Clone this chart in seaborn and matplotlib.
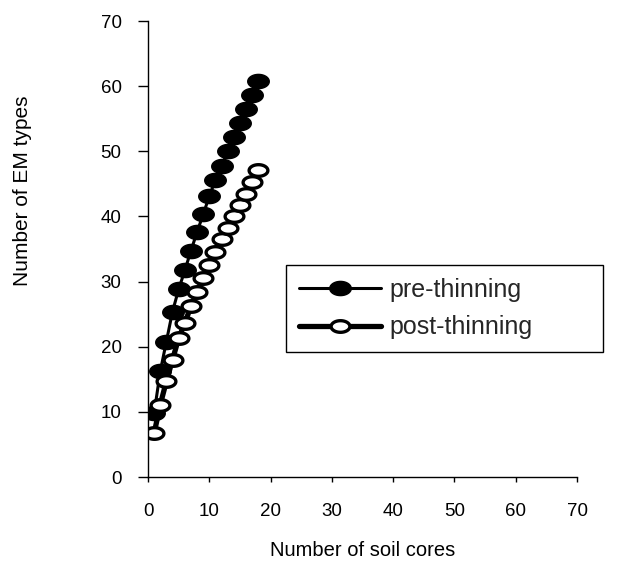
import numpy as np
import pandas as pd
import matplotlib
matplotlib.use("Agg")
import matplotlib.pyplot as plt
from matplotlib.path import Path
import seaborn as sns

# ---- data ----
cores = list(range(1, 19))
pre_thinning = [9.8, 16.2, 20.8, 25.4, 28.8, 31.7, 34.7, 37.6, 40.3, 43.1,
                45.6, 47.7, 50.0, 52.2, 54.3, 56.5, 58.7, 60.8]
post_thinning = [6.7, 11.1, 14.7, 18.0, 21.3, 23.6, 26.2, 28.4, 30.6, 32.6,
                 34.5, 36.5, 38.3, 40.0, 41.8, 43.5, 45.3, 47.1]
x_ticks = [0, 10, 20, 30, 40, 50, 60, 70]
y_ticks = [0, 10, 20, 30, 40, 50, 60, 70]

df_pre = pd.DataFrame({"cores": cores, "types": pre_thinning})
df_post = pd.DataFrame({"cores": cores, "types": post_thinning})

sns.set_theme(style="ticks")
plt.rcParams["font.family"] = ["Liberation Sans", "DejaVu Sans"]

# elliptical marker
t = np.linspace(0, 2 * np.pi, 64)
ell = Path(np.column_stack([np.cos(t), 0.66 * np.sin(t)]), closed=True)
ell_open = Path(np.column_stack([np.cos(t), 0.62 * np.sin(t)]), closed=True)

fig = plt.figure(figsize=(6.19, 5.62), dpi=100)
ax = fig.add_axes([148 / 619, 1 - 477 / 562, (577 - 148) / 619, (477 - 21) / 562])

sns.lineplot(data=df_pre, x="cores", y="types", ax=ax, color="black",
             linewidth=2.2, marker=ell, markersize=15.5,
             markerfacecolor="black", markeredgecolor="black",
             markeredgewidth=1, label="pre-thinning")
sns.lineplot(data=df_post, x="cores", y="types", ax=ax, color="black",
             linewidth=3.8, marker=ell_open, markersize=13.5,
             markerfacecolor="white", markeredgecolor="black",
             markeredgewidth=2.4, label="post-thinning")

ax.set_xlim(0, 70)
ax.set_ylim(0, 70)
ax.set_xticks(x_ticks)
ax.set_yticks(y_ticks)
ax.set_xticklabels([str(v) for v in x_ticks])
ax.set_yticklabels([str(v) for v in y_ticks])
sns.despine(ax=ax)
for s in ("left", "bottom"):
    ax.spines[s].set_color("black")
    ax.spines[s].set_linewidth(1.0)
ax.tick_params(axis="x", direction="out", length=3.5, width=1, pad=15,
               labelsize=13.5, colors="black")
ax.tick_params(axis="y", direction="out", length=7, width=1, pad=12,
               labelsize=13.5, colors="black")

ax.set_xlabel("Number of soil cores", fontsize=14.5, color="black")
ax.set_ylabel("Number of EM types", fontsize=15, color="black")
ax.xaxis.set_label_coords(0.5, -0.14)
ax.yaxis.set_label_coords(-0.27, 0.627)

leg = ax.legend(loc="upper left",
                bbox_to_anchor=(286 / 619, 1 - 350 / 562, (603 - 286) / 619, 85 / 562),
                bbox_transform=fig.transFigure, mode="expand",
                borderaxespad=0, fancybox=False, frameon=True,
                fontsize=18, handlelength=3.3, handletextpad=0.35,
                labelspacing=0.55, borderpad=0.5)
leg.get_frame().set_edgecolor("black")
leg.get_frame().set_linewidth(1.0)
leg.get_frame().set_alpha(1)

fig.savefig("out.png", dpi=100)
